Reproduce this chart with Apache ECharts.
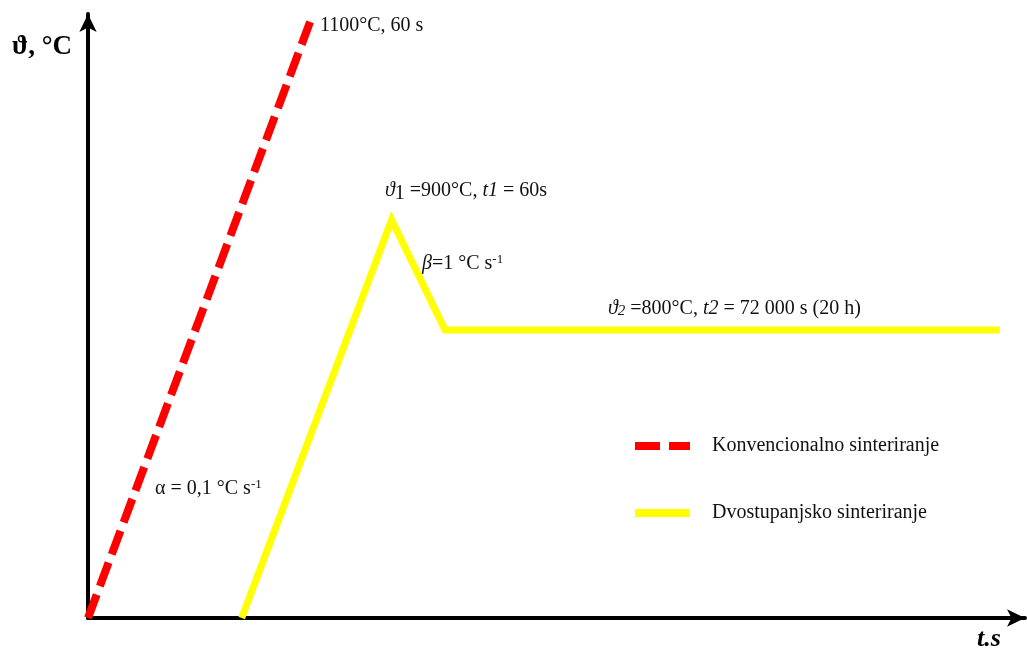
<!DOCTYPE html>
<html>
<head>
<meta charset="utf-8">
<script src="https://cdn.jsdelivr.net/npm/echarts@6/dist/echarts.min.js"></script>
<style>html,body{margin:0;padding:0;background:#fff;}#c{width:1027px;height:650px;}</style>
</head>
<body>
<div id="c"></div>
<script>
// Schematic units (no numeric scale shown on the axes)
const seriesNames = ['Konvencionalno sinteriranje', 'Dvostupanjsko sinteriranje'];
const conventionalT = [0, 23.7];
const conventionalY = [0, 98.7];
const twoStepT = [16.4, 32.4, 38.1, 97.3];
const twoStepY = [0, 65.9, 47.7, 47.7];

const zip = (a, b) => a.map((v, i) => [v, b[i]]);
const serif = '"Liberation Serif", "DejaVu Serif", serif';
const txtColor = '#111';

const chart = echarts.init(document.getElementById('c'), null, {renderer: 'canvas'});
chart.setOption({
  backgroundColor: '#fff',
  animation: false,
  grid: {left: 88, right: 2, top: 14, bottom: 32},
  xAxis: {
    type: 'value', min: 0, max: 100,
    axisLine: {show: true, onZero: false, symbol: ['none', 'arrow'], symbolSize: [13, 18],
      lineStyle: {color: '#000', width: 4}},
    axisTick: {show: false}, axisLabel: {show: false}, splitLine: {show: false}
  },
  yAxis: {
    type: 'value', min: 0, max: 100,
    axisLine: {show: true, onZero: false, symbol: ['none', 'arrow'], symbolSize: [13, 18],
      lineStyle: {color: '#000', width: 4}},
    axisTick: {show: false}, axisLabel: {show: false}, splitLine: {show: false}
  },
  legend: {
    orient: 'vertical', left: 626, top: 431, itemWidth: 55, itemHeight: 14, itemGap: 47,
    itemStyle: {opacity: 0},
    lineStyle: {width: 8},
    textStyle: {fontFamily: serif, fontSize: 20, lineHeight: 20, color: txtColor, padding: [0, 0, 0, 17]},
    data: seriesNames
  },
  series: [
    {
      name: seriesNames[0], type: 'line', data: zip(conventionalT, conventionalY),
      showSymbol: false, symbol: 'none',
      lineStyle: {color: '#ff0000', width: 8, type: [25, 9], cap: 'butt'},
      itemStyle: {color: '#ff0000'}
    },
    {
      name: seriesNames[1], type: 'line', data: zip(twoStepT, twoStepY),
      showSymbol: false, symbol: 'none',
      lineStyle: {color: '#ffff00', width: 7, join: 'miter'},
      itemStyle: {color: '#ffff00'}
    }
  ],
  graphic: [
    {type: 'text', left: 12, top: 34, style: {text: 'ϑ, °C', font: 'bold 27px ' + serif, fill: '#000'}},
    {type: 'text', left: 977, top: 626, style: {text: 't.s', font: 'italic bold 26px ' + serif, fill: '#000'}},
    {type: 'text', left: 320, top: 16, style: {text: '1100°C, 60 s', font: '20px ' + serif, fill: txtColor}},
    {type: 'text', left: 385, top: 181, style: {
      text: '{it|ϑ}{sub|1} =900°C, {it|t1} = 60s', font: '20px ' + serif, fill: txtColor,
      rich: {it: {fontFamily: serif, fontSize: 20, fontStyle: 'italic', color: txtColor},
             sub: {fontFamily: serif, fontSize: 20, color: txtColor, padding: [5, 0, 0, 0]}}
    }},
    {type: 'text', left: 422, top: 253, style: {
      text: '{it|β}=1 °C s{sup|-1}', font: '20px ' + serif, fill: txtColor,
      rich: {it: {fontFamily: serif, fontSize: 20, fontStyle: 'italic', color: txtColor},
             sup: {fontFamily: serif, fontSize: 13, color: txtColor, padding: [0, 0, 9, 0]}}
    }},
    {type: 'text', left: 608, top: 299, style: {
      text: '{it|ϑ}{sub|2} =800°C, {it|t2} = 72 000 s (20 h)', font: '20px ' + serif, fill: txtColor,
      rich: {it: {fontFamily: serif, fontSize: 20, fontStyle: 'italic', color: txtColor},
             sub: {fontFamily: serif, fontSize: 15, fontStyle: 'italic', color: txtColor, padding: [5, 0, 0, 0]}}
    }},
    {type: 'text', left: 155, top: 478, style: {
      text: 'α = 0,1 °C s{sup|-1}', font: '20px ' + serif, fill: txtColor,
      rich: {sup: {fontFamily: serif, fontSize: 13, color: txtColor, padding: [0, 0, 9, 0]}}
    }}
  ]
});
</script>
</body>
</html>
